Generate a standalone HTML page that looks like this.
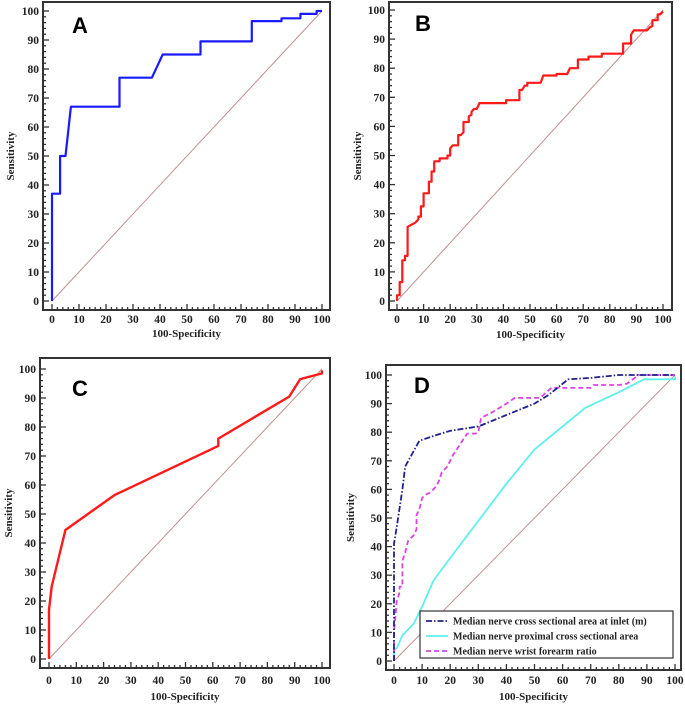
<!DOCTYPE html>
<html><head><meta charset="utf-8"><style>
html,body{margin:0;padding:0;background:#fff}
svg{display:block}
text{font-family:"Liberation Serif",serif;font-weight:bold;fill:#222}
</style></head><body>
<svg id="fig" width="685" height="706" viewBox="0 0 685 706"></svg>
<script>
const tickValues=[0,10,20,30,40,50,60,70,80,90,100];
const tickLabels=["0","10","20","30","40","50","60","70","80","90","100"];
const aFpr=[0,0,3,3,5,7,25,25,37,41,55,55,74,74,85,85,92,92,98,98,100];
const aSens=[0,37,37,50,50,67,67,77,77,85,85,89.5,89.5,96.5,96.5,97.5,97.5,99,99,100,100];
const bFpr=[0,0,1,1,2,2,3,3,4,4,6,7,8,8,9,9,10,10,12,12,13,13,14,14,16,16,19,19,20,20,21,23,23,24,25,25,27,27,28,28,29,30,31,41,41,46,46,47,48,49,49,54,55,60,60,64,65,68,68,72,72,77,77,85,85,88,88,89,94,95,96,96,98,98,99,100];
const bSens=[0,2,2,6.5,6.5,14,14,15.5,15.5,25.5,26.5,27,28,29,29,32.5,32.5,37,37,41,41,44.5,44.5,48,48,49,49,50,50,52.5,53.5,53.5,57,57,58,61.5,61.5,63.5,64,65,66,66,68,68,69,69,72.5,72.5,74,74,75,75,77.5,77.5,78,78,80,80,83,83,84,84,85,85,88.5,88.5,91.5,93,93,94,94.5,96.5,96.5,98.5,98.5,99.5];
const cFpr=[0,0,1,6,24,62,62,88,92,100,100];
const cSens=[0,17,25,44.5,56.5,73.5,76,90.5,96.5,98.5,99.5];
const dInletFpr=[0,0,0,1,3,4,9,15,20,30,40,50,55,62,70,80,100];
const dInletSens=[0,20,41,47,60,68,77,79,80.5,82,86,90,93,98.5,99,100,100];
const dProxFpr=[0,0,1,3,5,7,10,14,20,30,40,50,60,68,80,89,100,100];
const dProxSens=[0,4,4.5,9,11,13,19,28,36,49,62,74,82,88.5,94,98.5,98.5,99.5];
const dRatioFpr=[0,0,1,2,2,3,3,4,5,7,8,8,9,10,11,13,15,16,17,19,20,21,25,26,29,30,31,35,40,43,48,52,56,60,70,71,80,83,87,100];
const dRatioSens=[0,10,21,24,26,26,35,38,42,44,46,51,53,57,58,59,61,63,66,68,70,72,78,79.5,79.5,80,85,87,90,92,92,92,95.5,95.5,95.5,96.5,96.5,97,100,100];

const NS="http://www.w3.org/2000/svg";
const svg=document.getElementById('fig');
function mk(tag,attrs,parent){const e=document.createElementNS(NS,tag);for(const k in attrs)e.setAttribute(k,attrs[k]);(parent||svg).appendChild(e);return e;}

const panels=[
 {id:'a',letter:'A',fl:43,ft:2,fr:330,fb:310,x0:52,x1:322,y0:301,y1:11,sensX:10,lx:72,ly:33,titleY:337,tickY:323},
 {id:'b',letter:'B',fl:389,ft:2,fr:672,fb:310,x0:397,x1:663,y0:301,y1:10,sensX:357,lx:415,ly:31,titleY:338,tickY:323},
 {id:'c',letter:'C',fl:40,ft:358,fr:330,fb:668,x0:49,x1:322,y0:659,y1:369,sensX:8,lx:72,ly:396,titleY:700,tickY:684},
 {id:'d',letter:'D',fl:386,ft:365,fr:681,fb:670,x0:394,x1:675,y0:661,y1:375,sensX:350,lx:414,ly:393,titleY:700,tickY:684}
];

panels.forEach(p=>{
 const g=mk('g',{});
 
 
 p.g=g;
 p.sx=v=>p.x0+(p.x1-p.x0)*v/100;
 p.sy=v=>p.y0+(p.y1-p.y0)*v/100;
 const fr=mk('rect',{x:p.fl,y:p.ft,width:p.fr-p.fl,height:p.fb-p.ft,fill:'none',stroke:'#333','stroke-width':2},g);
 
 
 for(let v=0;v<=100;v+=2){
  const major=v%10===0;const len=major?6:3;
  mk('line',{x1:p.sx(v),x2:p.sx(v),y1:p.fb,y2:p.fb-len,stroke:'#333','stroke-width':1.3},g);
  mk('line',{x1:p.fl,x2:p.fl+len,y1:p.sy(v),y2:p.sy(v),stroke:'#333','stroke-width':1.3},g);
 }
 tickValues.forEach((v,i)=>{
  const tx=mk('text',{x:p.sx(v),y:p.tickY,'text-anchor':'middle','font-size':11.5},g);
  tx.textContent=tickLabels[i];
  
  
  const ty=mk('text',{x:p.fl-4,y:p.sy(v)+4,'text-anchor':'end','font-size':11.5},g);
  ty.textContent=tickLabels[i];
  
  
 });
 const xt=mk('text',{x:(p.fl+p.fr)/2,y:p.titleY,'text-anchor':'middle','font-size':11},g);
 xt.textContent='100-Specificity';
 
 
 const cy=(p.ft+p.fb)/2;
 const yt=mk('text',{x:p.sensX,y:cy,'text-anchor':'middle','font-size':11,transform:`rotate(-90 ${p.sensX} ${cy})`,dy:4},g);
 yt.textContent='Sensitivity';
 
 
 const lt=mk('text',{x:p.lx,y:p.ly,'font-size':22,style:'font-family:"Liberation Sans",sans-serif;font-weight:bold;fill:#000'},g);
 lt.textContent=p.letter;
 
 
 const dg=mk('line',{x1:p.sx(0),y1:p.sy(0),x2:p.sx(100),y2:p.sy(100),stroke:'#c09090','stroke-width':1},g);
 
 
});

function series(p,xs,ys,color,w,dash,name){
 const pts=xs.map((x,i)=>p.sx(x).toFixed(1)+','+p.sy(ys[i]).toFixed(1)).join(' ');
 const attrs={points:pts,fill:'none',stroke:color,'stroke-width':w,'stroke-linejoin':'round'};
 if(dash)attrs['stroke-dasharray']=dash;
 const e=mk('polyline',attrs,p.g);
 
 
}
series(panels[0],aFpr,aSens,'#1a1aff',2.2,null,'roc-curve-a');
series(panels[1],bFpr,bSens,'#ff1a1a',2.2,null,'roc-curve-b');
series(panels[2],cFpr,cSens,'#ff1a1a',2.4,null,'roc-curve-c');
const pd=panels[3];
series(pd,dProxFpr,dProxSens,'#60eeee',1.8,null,'roc-curve-proximal-csa');
series(pd,dRatioFpr,dRatioSens,'#dd44dd',1.8,'5,3','roc-curve-wrist-forearm-ratio');
series(pd,dInletFpr,dInletSens,'#20208a',1.8,'6,2,1.5,2','roc-curve-inlet-csa');

const lg=mk('g',{},pd.g);


mk('rect',{x:420,y:611,width:253,height:47,fill:'#fff',stroke:'#333','stroke-width':1.2},lg);
const legendItems=[
 ['Median nerve cross sectional area at inlet (m)','#20208a','6,2,1.5,2'],
 ['Median nerve proximal cross sectional area','#60eeee',null],
 ['Median nerve wrist forearm ratio','#dd44dd','5,3']
];
legendItems.forEach((it,i)=>{
 const y=621+i*15;
 const ent=mk('g',{},lg);
 
 
 const la={x1:426,x2:448,y1:y,y2:y,stroke:it[1],'stroke-width':1.8};
 if(it[2])la['stroke-dasharray']=it[2];
 mk('line',la,ent);
 const t=mk('text',{x:453,y:y+3.5,'font-size':10},ent);
 t.textContent=it[0];
});
</script>
</body></html>
